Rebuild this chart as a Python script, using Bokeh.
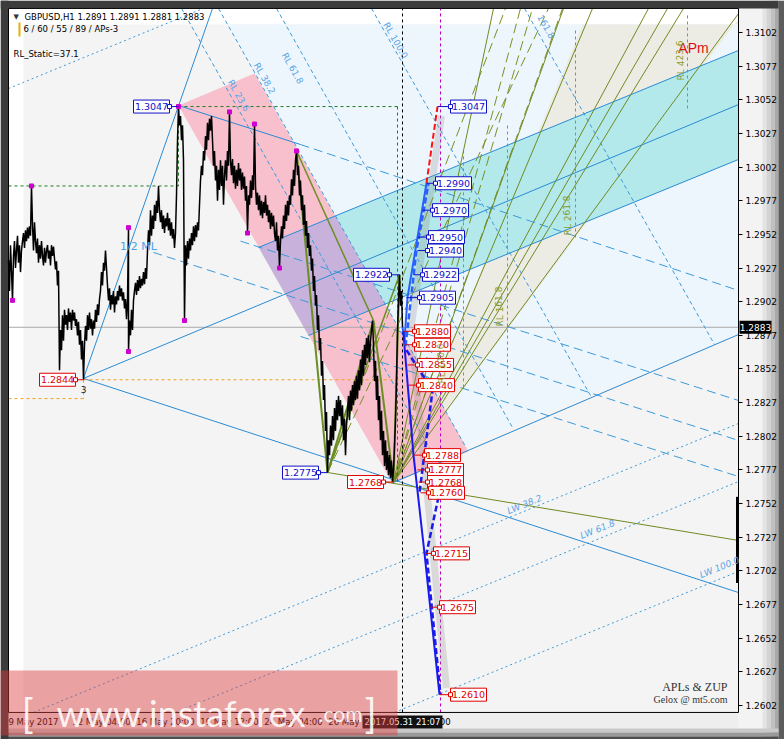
from bokeh.plotting import figure
from bokeh.models import Range1d, LinearAxis, FixedTicker, PrintfTickFormatter
from bokeh.core.properties import value
from bokeh.embed import file_html
from bokeh.resources import INLINE

FONT = "DejaVu Sans"

# ---------------- data ----------------
bars = list(range(8, 129)) + [128] + list(range(129, 403))
prices = [
    1.2933, 1.2910, 1.2944, 1.2925, 1.2903, 1.2936, 1.2947, 1.2927, 1.2940, 1.2951,
    1.2931, 1.2944, 1.2924, 1.2940, 1.2947, 1.2953, 1.2942, 1.2955, 1.2947, 1.2957,
    1.2949, 1.2958, 1.2951, 1.2988, 1.2959, 1.2940, 1.2961, 1.2947, 1.2938, 1.2949,
    1.2931, 1.2944, 1.2934, 1.2947, 1.2936, 1.2929, 1.2942, 1.2931, 1.2940, 1.2944,
    1.2934, 1.2940, 1.2929, 1.2944, 1.2936, 1.2943, 1.2934, 1.2926, 1.2932, 1.2914,
    1.2925, 1.2851, 1.2881, 1.2866, 1.2892, 1.2873, 1.2896, 1.2885, 1.2892, 1.2881,
    1.2897, 1.2887, 1.2894, 1.2881, 1.2896, 1.2888, 1.2894, 1.2884, 1.2889, 1.2877,
    1.2887, 1.2870, 1.2881, 1.2859, 1.2873, 1.2844, 1.2870, 1.2884, 1.2873, 1.2892,
    1.2881, 1.2894, 1.2882, 1.2889, 1.2877, 1.2888, 1.2882, 1.2896, 1.2887, 1.2900,
    1.2892, 1.2904, 1.2910, 1.2924, 1.2914, 1.2931, 1.2925, 1.2940, 1.2927, 1.2914,
    1.2903, 1.2912, 1.2896, 1.2907, 1.2900, 1.2910, 1.2894, 1.2906, 1.2900, 1.2910,
    1.2903, 1.2914, 1.2906, 1.2912, 1.2903, 1.2909, 1.2897, 1.2904, 1.2889, 1.2903,
    1.2957, 1.2865,
    1.2888, 1.2877, 1.2896, 1.2881, 1.2903, 1.2910, 1.2916, 1.2907, 1.2918, 1.2910,
    1.2921, 1.2912, 1.2919, 1.2914, 1.2924, 1.2915, 1.2927, 1.2919, 1.2940, 1.2955,
    1.2944, 1.2970, 1.2951, 1.2966, 1.2956, 1.2974, 1.2962, 1.2977, 1.2968, 1.2988,
    1.2970, 1.2961, 1.2970, 1.2956, 1.2966, 1.2953, 1.2964, 1.2958, 1.2968, 1.2955,
    1.2964, 1.2951, 1.2961, 1.2949, 1.2956, 1.2942, 1.2953, 1.2981, 1.3022, 1.3047,
    1.3033, 1.3040, 1.3022, 1.3033, 1.3007, 1.2888, 1.2944, 1.2929, 1.2947, 1.2934,
    1.2949, 1.2940, 1.2953, 1.2944, 1.2958, 1.2947, 1.2959, 1.2950, 1.2961, 1.2955,
    1.2974, 1.2992, 1.3003, 1.2996, 1.3014, 1.3007, 1.3025, 1.3015, 1.3035, 1.3022,
    1.3038, 1.3029, 1.3040, 1.3022, 1.3003, 1.3014, 1.2992, 1.3003, 1.2977, 1.3000,
    1.2985, 1.3007, 1.2988, 1.3003, 1.2974, 1.2996, 1.3007, 1.2992, 1.3014, 1.3003,
    1.3043, 1.3007, 1.2996, 1.3008, 1.2990, 1.3003, 1.2986, 1.3000, 1.2988, 1.3005,
    1.2992, 1.3001, 1.2985, 1.2998, 1.2986, 1.2995, 1.2977, 1.2988, 1.2953, 1.2981,
    1.2974, 1.2992, 1.2979, 1.2996, 1.2985, 1.3034, 1.2988, 1.2974, 1.2983, 1.2970,
    1.2981, 1.2966, 1.2977, 1.2964, 1.2976, 1.2968, 1.2981, 1.2966, 1.2974, 1.2961,
    1.2970, 1.2956, 1.2968, 1.2958, 1.2966, 1.2953, 1.2947, 1.2961, 1.2940, 1.2951,
    1.2927, 1.2947, 1.2958, 1.2949, 1.2966, 1.2956, 1.2974, 1.2962, 1.2977, 1.2966,
    1.2981, 1.2974, 1.2993, 1.2981, 1.3000, 1.2988, 1.3007, 1.3014, 1.2996, 1.3003,
    1.2981, 1.2992, 1.2970, 1.2981, 1.2959, 1.2974, 1.2951, 1.2962, 1.2942, 1.2953,
    1.2936, 1.2944, 1.2925, 1.2934, 1.2910, 1.2921, 1.2899, 1.2907, 1.2881, 1.2892,
    1.2866, 1.2875, 1.2847, 1.2858, 1.2829, 1.2840, 1.2806, 1.2820, 1.2775, 1.2799,
    1.2788, 1.2810, 1.2795, 1.2817, 1.2799, 1.2823, 1.2806, 1.2829, 1.2814, 1.2832,
    1.2817, 1.2829, 1.2810, 1.2825, 1.2799, 1.2815, 1.2788, 1.2810, 1.2821, 1.2832,
    1.2814, 1.2836, 1.2821, 1.2840, 1.2825, 1.2843, 1.2829, 1.2847, 1.2830, 1.2851,
    1.2836, 1.2859, 1.2840, 1.2866, 1.2847, 1.2870, 1.2855, 1.2875, 1.2860, 1.2877,
    1.2857, 1.2873, 1.2881, 1.2888, 1.2870, 1.2843, 1.2858, 1.2829, 1.2847, 1.2814,
    1.2832, 1.2799, 1.2821, 1.2788, 1.2806, 1.2780, 1.2799, 1.2777, 1.2791, 1.2773,
    1.2788, 1.2771, 1.2784, 1.2768, 1.2777, 1.2795, 1.2814, 1.2843, 1.2881, 1.2903,
    1.2922, 1.2899, 1.2910, 1.2883,
]

pivot_bars = [12, 31, 128, 128, 184, 229, 247, 254, 279, 296, 178]
pivot_prices = [1.2903, 1.2988, 1.2957, 1.2865, 1.2888, 1.3043, 1.2953, 1.3034, 1.2927, 1.3014, 1.3047]

price_ticks = [1.2602, 1.2627, 1.2652, 1.2677, 1.2702, 1.2727, 1.2752, 1.2777, 1.2802,
               1.2827, 1.2852, 1.2877, 1.2902, 1.2927, 1.2952, 1.2977, 1.3002, 1.3027,
               1.3052, 1.3077, 1.3102]
time_tick_bars = [8, 72, 136, 200, 264, 328, 392]
time_tick_labels = ["9 May 2017", "12 May 04:00", "16 May 20:00", "19 May 12:00",
                    "24 May 04:00", "26 May 20:00", "31 May 12:00"]
last_price = 1.2883
cursor_bar = 402
cursor_text = "2017.05.31 21:07"

# zones (bar, price)
lightblue_x = [227, 738, 738, 465]
lightblue_p = [1.31080, 1.31080, 1.28776, 1.27944]
beige_x = [393, 582, 738, 738]
beige_p = [1.27677, 1.31080, 1.31080, 1.31120]
teal_x = [258, 738, 738, 308]
teal_p = [1.29423, 1.30887, 1.30077, 1.28769]
pink_x = [178, 254, 468, 392]
pink_p = [1.30478, 1.30716, 1.27907, 1.27669]

# lines: (x0, p0, x1, p1)
blue_solid = [(83, 1.2845, 212, 1.31199), (83, 1.2845, 738, 1.30485), (83, 1.2845, 738, 1.26859),
              (258, 1.29423, 738, 1.30887), (308, 1.28769, 738, 1.30077),
              (393, 1.27677, 738, 1.28776), (178, 1.30478, 300, 1.30188)]
blue_dashed = [(300, 1.30188, 738, 1.29103), (153, 1.29386, 738, 1.27989),
               (240, 1.29470, 738, 1.28286), (300, 1.28762, 738, 1.27721)]
blue_dotted = [(33, 1.25968, 738, 1.28115), (175, 1.25968, 738, 1.27684),
               (394, 1.25968, 738, 1.27016), (8, 1.30604, 200, 1.31191)]
rl_steep = [(181, 1.31199, 435, 1.27855), (218, 1.31199, 465, 1.27944), (276, 1.31199, 512, 1.28085),
            (371, 1.31199, 590, 1.28323), (524, 1.31199, 714, 1.28702)]
olive_solid = [(327, 1.27751, 738, 1.27246)] + \
    [(393, 1.27677, xt, 1.31199) for xt in [493, 563, 592, 648, 667, 683]] + [(393, 1.27677, 738, 1.31161)]
olive_dashed = [(393, 1.27677, xt, 1.31199) for xt in [520, 532, 562]] + \
    [(327, 1.27751, xt, 1.31199) for xt in [505, 548]]
olive_vert = [(463, 1.30144, 463, 1.28360), (507, 1.30329, 507, 1.28398),
              (575, 1.31035, 575, 1.29475), (687, 1.31147, 687, 1.30441)]
zz_x = [296, 327, 373, 393, 399]
zz_p = [1.3014, 1.2775, 1.2888, 1.2768, 1.2922]
zz_extra = [(296, 1.3014, 373, 1.2888), (327, 1.2775, 399, 1.2922)]
green_dot = [(8, 1.2988, 178, 1.2988), (178, 1.3047, 178, 1.2988), (178, 1.3047, 397, 1.3047),
             (397, 1.3047, 397, 1.2768)]
orange_dot = [(83, 1.2844, 400, 1.2844), (8, 1.2830, 83, 1.2830), (83, 1.2844, 83, 1.2830)]

zup_up_x, zup_up_p = [402, 404, 407, 426], [1.2883, 1.2873, 1.2905, 1.2990]
zup_dn_x, zup_dn_p = [403, 404, 413, 424, 439], [1.2880, 1.2869, 1.2788, 1.2715, 1.2610]
zup_d1_x, zup_d1_p = [405, 416, 428], [1.2869, 1.2940, 1.2990]
zup_d2_x, zup_d2_p = [406, 432, 419], [1.2866, 1.2836, 1.2760]
zup_d3_x, zup_d3_p = [438, 426, 440], [1.2757, 1.2715, 1.2610]
zup_red_x, zup_red_p = [426, 437], [1.2990, 1.3047]

blue_vals = [1.3047, 1.3047, 1.2990, 1.2970, 1.2950, 1.2940, 1.2922, 1.2922, 1.2905, 1.2775]
blue_anchor = [178, 437, 426, 422, 417, 417, 413, 399, 406, 327]
blue_center = [151, 468, 453, 450, 446, 445, 440, 371, 437, 300]
red_vals = [1.2844, 1.2880, 1.2870, 1.2855, 1.2840, 1.2768, 1.2788, 1.2777, 1.2768, 1.2760, 1.2715, 1.2675, 1.2610]
red_anchor = [83, 403, 404, 407, 408, 393, 413, 417, 418, 420, 425, 430, 439]
red_center = [57, 432, 432, 435, 436, 365, 442, 445, 445, 446, 451, 457, 468]

spread_bar = (1.2757, 1.2693)

# ---------------- figure ----------------
# whole canvas is the frame: x in bars (1 bar = 1 px), y in price
XL, XR = 8, 738            # chart window (bars)
PB, PT = 1.25968, 1.31199  # chart window (price)
p = figure(width=784, height=739, x_range=Range1d(0, 784), y_range=Range1d(1.25767, 1.31258),
           output_backend="svg", toolbar_location=None, min_border=0,
           x_axis_location=None, y_axis_location=None,
           background_fill_color="#eeeeee", border_fill_color="#eeeeee", outline_line_color=None)
p.xgrid.grid_line_color = None
p.ygrid.grid_line_color = None

# window chrome
p.quad(left=738, right=762, top=1.31258, bottom=1.25767, fill_color="#f3f3f3", line_color=None)
for (l, r, c) in [(762, 766, "#e4e4e4"), (766, 770, "#d3d3d3"), (770, 774, "#c0c0c0"),
                  (774, 778, "#a9a9a9"), (778, 784, "#5c5c5c")]:
    p.quad(left=l, right=r, top=1.31258, bottom=1.25767, fill_color=c, line_color=None)
for (t, b, c) in [(1.25849, 1.25819, "#c9c9c9"), (1.25819, 1.25790, "#9a9a9a"), (1.25790, 1.25767, "#4e4e4e")]:
    p.quad(left=0, right=778, top=t, bottom=b, fill_color=c, line_color=None)
p.quad(left=0, right=8, top=1.31258, bottom=1.25767, fill_color="#3c3c3c", line_color=None)
p.quad(left=0, right=778, top=1.31258, bottom=1.31199, fill_color="#3c3c3c", line_color=None)

# chart window background
p.quad(left=XL, right=XR, top=PT, bottom=PB, fill_color="white", line_color=None)
p.quad(left=23, right=XR, top=1.31080, bottom=PB, fill_color="#f4f4f4", line_color=None)

# axes (fixed at the chart window edges)
yax = LinearAxis(fixed_location=XR, ticker=FixedTicker(ticks=price_ticks),
                 formatter=PrintfTickFormatter(format="%.4f"),
                 axis_line_color=None, major_tick_out=4, major_tick_in=0, minor_tick_line_color=None,
                 major_tick_line_color="black", major_label_standoff=3,
                 major_label_text_font=FONT, major_label_text_font_size="9px", major_label_text_color="black")
p.add_layout(yax, "right")

half = [25, 29, 29, 29, 29, 29, 29]
xpos = [b + h for b, h in zip(time_tick_bars, half)]
xax = LinearAxis(fixed_location=PB, ticker=FixedTicker(ticks=xpos),
                 major_label_overrides={x: s for x, s in zip(xpos, time_tick_labels)},
                 axis_line_color=None, major_tick_out=0, major_tick_in=0, minor_tick_line_color=None,
                 major_tick_line_color=None, major_label_standoff=5,
                 major_label_text_font=FONT, major_label_text_font_size="8.5px", major_label_text_color="black")
p.add_layout(xax, "below")

# zones
p.patch(lightblue_x, lightblue_p, fill_color="#eef6fd", line_color=None)
p.patch(beige_x, beige_p, fill_color="#ecece4", line_color=None)
p.patch(teal_x, teal_p, fill_color="#b3e9ea", line_color=None)
p.patch(pink_x, pink_p, fill_color="#f8bfcd", line_color=None)


def clip_poly(subject, clipper):
    def inside(pt, a, b):
        return (b[0] - a[0]) * (pt[1] - a[1]) - (b[1] - a[1]) * (pt[0] - a[0]) >= 0

    def inter(s, e, a, b):
        x1, y1 = s; x2, y2 = e; x3, y3 = a; x4, y4 = b
        den = (x1 - x2) * (y3 - y4) - (y1 - y2) * (x3 - x4)
        t = ((x1 - x3) * (y3 - y4) - (y1 - y3) * (x3 - x4)) / den
        return (x1 + t * (x2 - x1), y1 + t * (y2 - y1))

    n = len(clipper)
    area = sum(clipper[i][0] * clipper[(i + 1) % n][1] - clipper[(i + 1) % n][0] * clipper[i][1] for i in range(n))
    if area < 0:
        clipper = clipper[::-1]
    out = subject
    for i in range(n):
        a, b = clipper[i], clipper[(i + 1) % n]
        inp, out = out, []
        if not inp:
            break
        s = inp[-1]
        for e in inp:
            if inside(e, a, b):
                if not inside(s, a, b):
                    out.append(inter(s, e, a, b))
                out.append(e)
            elif inside(s, a, b):
                out.append(inter(s, e, a, b))
            s = e
    return out


SC = 13460.0  # price -> pixel scale, geometry only
tp = [(x, y * SC) for x, y in zip(teal_x, teal_p)]
pp = [(x, y * SC) for x, y in zip(pink_x, pink_p)]
lav = clip_poly(tp, pp)
if lav:
    p.patch([q[0] for q in lav], [q[1] / SC for q in lav], fill_color="#c8b2dc", line_color=None)

# current price line
p.segment(x0=XL, y0=last_price, x1=XR, y1=last_price, line_color="#a8a8a8", line_width=1)


def seglist(lst, color, width=1, dash="solid", alpha=1.0):
    p.segment(x0=[s[0] for s in lst], y0=[s[1] for s in lst], x1=[s[2] for s in lst], y1=[s[3] for s in lst],
              line_color=color, line_width=width, line_dash=dash, line_alpha=alpha)


seglist(blue_dotted, "#3d9ad9", 1, "2 3")
seglist(blue_dashed, "#3d9ad9", 1, "9 5")
seglist(rl_steep, "#3d9ad9", 1, "4 3")
seglist(blue_solid, "#2a8bd4", 1)
seglist(olive_vert, "#8c9c2c", 1, "3 3")
seglist(olive_dashed, "#7b8f22", 1, "10 5")
seglist(olive_solid, "#6f8a22", 1)
seglist(green_dot, "#1f7a1f", 1, "3 3")
seglist(orange_dot, "#f0a020", 1, "3 3")

# verticals
p.segment(x0=cursor_bar, y0=PB, x1=cursor_bar, y1=PT, line_color="black", line_dash="3 3", line_width=1)
p.segment(x0=440, y0=PB, x1=440, y1=PT, line_color="#c000c0", line_dash="3 3", line_width=1)

# zigzag
p.line(zz_x, zz_p, line_color="#6b8e23", line_width=2)
seglist(zz_extra, "#6b8e23", 1.5)

# price
p.line(bars, prices, line_color="black", line_width=1.5)
p.scatter(pivot_bars, pivot_prices, marker="square", size=4, fill_color="#d000d0", line_color="#d000d0")

# ZUP projections
p.line([410, 441], [1.2880, 1.3040], line_color="#888888", line_alpha=0.25, line_width=7)
p.line([412, 446], [1.2870, 1.2615], line_color="#888888", line_alpha=0.25, line_width=7)
p.line(zup_up_x, zup_up_p, line_color="#2a60ff", line_width=2)
p.line(zup_dn_x, zup_dn_p, line_color="#1a1aee", line_width=2)
p.line(zup_d1_x, zup_d1_p, line_color="#2a60ff", line_width=2.5, line_dash="6 3")
p.line(zup_d2_x, zup_d2_p, line_color="#1a1aee", line_width=2.5, line_dash="6 3")
p.line(zup_d3_x, zup_d3_p, line_color="#1a1aee", line_width=2.5, line_dash="6 3")
p.line(zup_red_x, zup_red_p, line_color="#ff1010", line_width=2, line_dash="6 3")

# spread bar at right edge
p.segment(x0=737, y0=spread_bar[0], x1=737, y1=spread_bar[1], line_color="black", line_width=3)

# chart window border
p.segment(x0=[XL, XL, XR, XL], y0=[PT, PB, PB, PT], x1=[XR, XR, XR, XL], y1=[PT, PB, PT, PB],
          line_color="black", line_width=1)


def tags(vals, anchors, centers, color):
    edges = [c - 18 if c > a else c + 18 for a, c in zip(anchors, centers)]
    p.segment(x0=anchors, y0=vals, x1=edges, y1=vals, line_color=color, line_width=1)
    p.rect(x=centers, y=vals, width=36, height=13, width_units="screen", height_units="screen",
           fill_color="white", line_color=color, line_width=1)
    p.scatter(edges, vals, marker="square", size=4, fill_color="white", line_color=color)
    p.text(x=centers, y=vals, text=[f"{v:.4f}" for v in vals], text_align="center", text_baseline="middle",
           text_font=value(FONT), text_font_size="9.5px", text_color=color)


tags(blue_vals, blue_anchor, blue_center, "#1010c8")
tags(red_vals, red_anchor, red_center, "#e00000")


def txt(x, y, s, size, color, align="left", angle=0.0, font=FONT, style="normal", baseline="middle",
        level="glyph", alpha=1.0):
    p.text(x=[x], y=[y], text=[s], text_font=value(font), text_font_size=size, text_color=color,
           text_align=align, text_baseline=baseline, angle=angle, text_font_style=style, level=level,
           text_alpha=alpha)


# header
txt(13, 1.31132, "\u25bc", "7px", "#333333")
txt(24, 1.31132, "GBPUSD,H1  1.2891 1.2891 1.2881 1.2883", "8.5px", "black")
p.segment(x0=19, y0=1.31095, x1=19, y1=1.30990, line_color="#e8b000", line_width=2)
txt(23, 1.31043, "6 / 60 / 55 / 89 / APs-3", "8.5px", "black")
txt(13, 1.30864, "RL_Static=37.1", "8.5px", "black")

# chart texts
txt(693, 1.30905, "APm", "14px", "#e01010", align="center", font="Liberation Sans")
txt(727, 1.26160, "APLs & ZUP", "12px", "#333333", align="right", font="Liberation Serif")
txt(727, 1.26065, "Gelox @ mt5.com", "10px", "#333333", align="right", font="Liberation Serif")
txt(138, 1.29430, "1/2 ML", "11px", "#4aa3ea", align="center")
txt(83, 1.28368, "3", "9px", "#222222", align="center")

for s, x, y in [("RL 23.6", 238, 1.30552), ("RL 38.2", 264, 1.30679), ("RL 61.8", 292, 1.30753),
                ("RL 100.0", 395, 1.30961), ("161.8", 546, 1.31065)]:
    txt(x, y, s, "9px", "#5aa5e6", align="center", angle=-1.056)
for s, x, y in [("LW 38.2", 524, 1.27513), ("LW 61.8", 597, 1.27328), ("LW 100.0", 719, 1.27045)]:
    txt(x, y, s, "9px", "#5aa5e6", align="center", angle=0.39, style="italic")
for s, x, y in [("RL 161.8", 499, 1.28984), ("RL 261.8", 567, 1.29661), ("RL 423.6", 680, 1.30812),
                ("RL 100.0", 441, 1.28561)]:
    txt(x, y, s, "9px", "#8c9c2c", align="center", angle=1.5708)

# axis highlights (drawn above the axes)
p.rect(x=[755], y=[last_price], width=32, height=13, width_units="screen", height_units="screen",
       fill_color="black", line_color=None, level="overlay")
txt(755, last_price, f"{last_price:.4f}", "9px", "white", align="center", level="overlay")
p.rect(x=[cursor_bar], y=[1.25897], width=80, height=13, width_units="screen", height_units="screen",
       fill_color="#111111", line_color=None, level="overlay")
txt(cursor_bar, 1.25897, cursor_text, "8.5px", "white", align="center", level="overlay")

# watermark
p.quad(left=0, right=397, top=1.26280, bottom=1.25797, fill_color="#dc3c3c", fill_alpha=0.45,
       line_color=None, level="overlay")
for s, x, sz in [("[", 21, "40px"), ("www.instaforex", 56, "36px"), (".com", 318, "21px"), ("]", 364, "40px")]:
    txt(x, 1.25963, s, sz, "white", align="left", font="Lato", baseline="alphabetic", level="overlay", alpha=0.88)

open("out.html", "w").write(file_html(p, INLINE))
